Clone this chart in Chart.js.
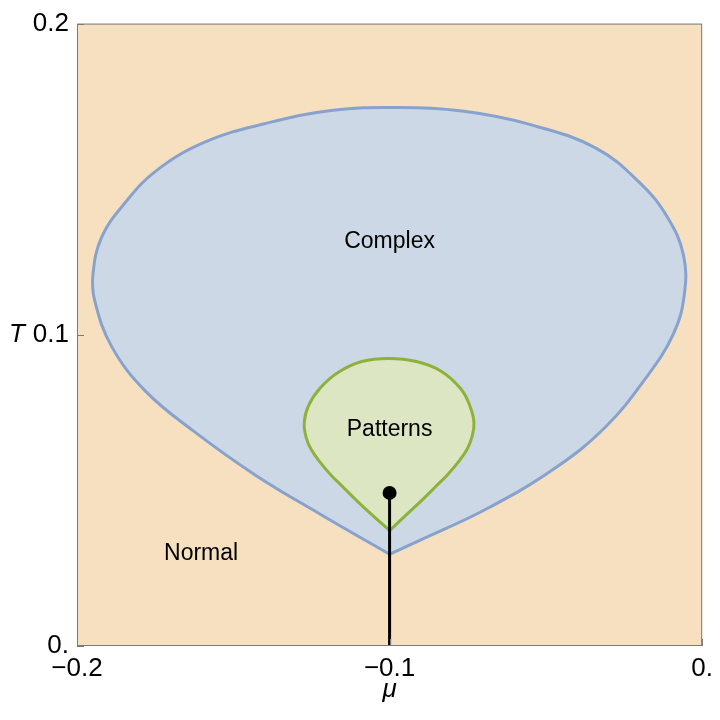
<!DOCTYPE html>
<html>
<head>
<meta charset="utf-8">
<title>Phase diagram</title>
<script src="https://cdn.jsdelivr.net/npm/chart.js@4.4.0/dist/chart.umd.min.js"></script>
<style>
  html, body { margin: 0; padding: 0; background: #fff; }
  #wrap { width: 720px; height: 720px; }
</style>
</head>
<body>
<div id="wrap"><canvas id="phase"></canvas></div>
<script>
// boundary of the "Complex" region, clockwise from the cusp
const complexMu = [
  -0.1, -0.1219, -0.1429, -0.1629, -0.1781, -0.1889, -0.1943, -0.1949, -0.1921,
  -0.1848, -0.1743, -0.1584, -0.1397, -0.1187, -0.0975, -0.0762, -0.0552, -0.034,
  -0.0197, -0.0111, -0.006, -0.0057, -0.0092, -0.0181, -0.0311, -0.0476, -0.0689,
  -0.0902, -0.1
];
const complexT = [
  0.0295, 0.0422, 0.0549, 0.0692, 0.0819, 0.0962, 0.1108, 0.1194, 0.1314,
  0.1422, 0.153, 0.1622, 0.1679, 0.1721, 0.173, 0.1718, 0.1676, 0.16,
  0.1486, 0.1378, 0.1257, 0.113, 0.1003, 0.086, 0.0702, 0.0568, 0.0441,
  0.034, 0.0295
];

// boundary of the "Patterns" region
const patternsMu = [
  -0.1, -0.1057, -0.1111, -0.1149, -0.1187, -0.1222, -0.1251, -0.1267, -0.1273,
  -0.126, -0.1222, -0.1165, -0.1089, -0.1003, -0.0914, -0.0835, -0.0771, -0.0743,
  -0.073, -0.0737, -0.0752, -0.0781, -0.0816, -0.0854, -0.0892, -0.0946, -0.1
];
const patternsT = [
  0.0371, 0.0422, 0.0473, 0.0511, 0.0549, 0.059, 0.0632, 0.067, 0.0717,
  0.0771, 0.0829, 0.0879, 0.0914, 0.0924, 0.0914, 0.0883, 0.0825, 0.0771,
  0.0717, 0.067, 0.0632, 0.059, 0.0549, 0.0511, 0.0473, 0.0422, 0.0371
];

// vertical line with the dot on top
const stemMu = [-0.1, -0.1];
const stemT = [0, 0.0492];

const regionNames = ["Complex", "Patterns", "Normal"];
const regionMu = [-0.1, -0.1, -0.1603];
const regionT = [0.1298, 0.0695, 0.0298];

const xTicks = [-0.2, -0.1, 0];
const xTickLabels = ["\u22120.2", "\u22120.1", "0."];
const yTicks = [0, 0.1, 0.2];
const yTickLabels = ["0.", "0.1", "0.2"];

const FONT = "'Liberation Sans', Arial, sans-serif";

function points(xs, ys) {
  return xs.map((x, i) => ({ x, y: ys[i] }));
}

const phasePlugin = {
  id: "phase",
  beforeDatasetsDraw(chart) {
    const { ctx, chartArea: a } = chart;
    ctx.save();
    ctx.fillStyle = "#f6e0bf";
    ctx.fillRect(a.left, a.top, a.right - a.left, a.bottom - a.top);
    ctx.restore();
  },
  afterDatasetsDraw(chart) {
    const { ctx, chartArea: a, scales } = chart;
    ctx.save();

    // frame and inward ticks
    ctx.strokeStyle = "#7a7a7a";
    ctx.lineWidth = 1;
    ctx.strokeRect(a.left + 0.5, a.top + 0.5, a.right - a.left - 1, a.bottom - a.top - 1);
    ctx.beginPath();
    for (const v of yTicks) {
      const y = Math.round(scales.y.getPixelForValue(v)) + 0.5;
      ctx.moveTo(a.left, y);
      ctx.lineTo(a.left + 7, y);
    }
    for (const v of xTicks) {
      const x = Math.round(scales.x.getPixelForValue(v)) + 0.5;
      ctx.moveTo(x, a.bottom);
      ctx.lineTo(x, a.bottom - 7);
    }
    ctx.stroke();

    // region names
    ctx.fillStyle = "#000";
    ctx.font = `23px ${FONT}`;
    ctx.textAlign = "center";
    ctx.textBaseline = "middle";
    regionNames.forEach((name, i) => {
      ctx.fillText(name, scales.x.getPixelForValue(regionMu[i]), scales.y.getPixelForValue(regionT[i]));
    });

    // axis titles
    ctx.font = `italic 26px ${FONT}`;
    ctx.fillText("T", a.left - 60, (a.top + a.bottom) / 2);
    ctx.fillText("\u03bc", (a.left + a.right) / 2, a.bottom + 44);
    ctx.restore();
  },
};

new Chart(document.getElementById("phase"), {
  type: "line",
  data: {
    datasets: [
      {
        label: "stem",
        data: points(stemMu, stemT),
        borderColor: "#000",
        borderWidth: 3,
        pointRadius: [0, 7],
        pointBackgroundColor: "#000",
        pointBorderWidth: 0,
        order: 0,
      },
      {
        label: "Patterns",
        data: points(patternsMu, patternsT),
        tension: 0.4,
        borderColor: "#8cb23c",
        backgroundColor: "#dde6c3",
        borderWidth: 3,
        fill: "shape",
        pointRadius: 0,
        order: 1,
      },
      {
        label: "Complex",
        data: points(complexMu, complexT),
        tension: 0.4,
        borderColor: "#87a3cd",
        backgroundColor: "#ccd8e6",
        borderWidth: 3,
        fill: "shape",
        pointRadius: 0,
        order: 2,
      },
    ],
  },
  options: {
    responsive: true,
    maintainAspectRatio: false,
    animation: false,
    layout: { padding: { top: 16, right: 13, left: 0, bottom: 0 } },
    plugins: {
      legend: { display: false },
      tooltip: { enabled: false },
    },
    scales: {
      x: {
        type: "linear",
        min: -0.2,
        max: 0,
        afterFit(scale) {
          scale.height = 74;
        },
        afterBuildTicks(scale) {
          scale.ticks = xTicks.map((value) => ({ value }));
        },
        grid: { display: false, drawTicks: false },
        border: { display: false },
        ticks: {
          padding: 7,
          maxRotation: 0,
          color: "#000",
          font: { family: FONT, size: 26 },
          callback: (v) => xTickLabels[xTicks.findIndex((t) => Math.abs(t - v) < 1e-9)],
        },
      },
      y: {
        type: "linear",
        min: 0,
        max: 0.2,
        afterFit(scale) {
          scale.width = 77;
        },
        afterBuildTicks(scale) {
          scale.ticks = yTicks.map((value) => ({ value }));
        },
        grid: { display: false, drawTicks: false },
        border: { display: false },
        ticks: {
          padding: 8,
          color: "#000",
          font: { family: FONT, size: 26 },
          callback: (v) => yTickLabels[yTicks.findIndex((t) => Math.abs(t - v) < 1e-9)],
        },
      },
    },
  },
  plugins: [phasePlugin],
});
</script>
</body>
</html>
